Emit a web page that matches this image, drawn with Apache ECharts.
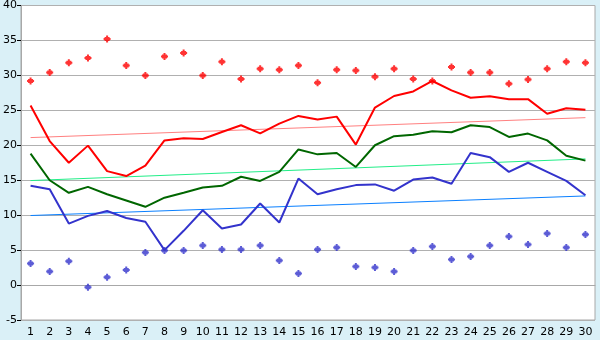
<!DOCTYPE html>
<html><head><meta charset="utf-8">
<script src="https://cdn.jsdelivr.net/npm/echarts@6/dist/echarts.min.js"></script>
<style>html,body{margin:0;padding:0;background:#daf0f7;}#c{width:600px;height:340px;}</style>
</head><body><div id="c"></div>
<script>
var days = ['1','2','3','4','5','6','7','8','9','10','11','12','13','14','15','16','17','18','19','20','21','22','23','24','25','26','27','28','29','30'];
var maxPoints = [29.2,30.4,31.8,32.5,35.2,31.4,30.0,32.7,33.2,30.0,31.95,29.5,30.95,30.8,31.4,28.95,30.8,30.7,29.8,30.95,29.5,29.2,31.2,30.4,30.4,28.8,29.4,30.95,31.95,31.8];
var maxLine = [25.7,20.6,17.5,19.95,16.3,15.6,17.1,20.7,21.0,20.9,21.9,22.86,21.7,23.1,24.2,23.7,24.1,20.1,25.4,27.05,27.7,29.2,27.86,26.8,27.0,26.6,26.6,24.5,25.3,25.1];
var avgLine = [18.8,15.0,13.2,14.05,13.0,12.1,11.2,12.5,13.2,13.95,14.2,15.5,14.9,16.2,19.4,18.7,18.9,16.9,20.0,21.3,21.5,22.0,21.86,22.86,22.6,21.2,21.67,20.7,18.5,17.8];
var minLine = [14.2,13.7,8.8,9.9,10.6,9.6,9.05,5.0,7.76,10.7,8.1,8.67,11.67,8.95,15.24,13.0,13.7,14.3,14.4,13.5,15.1,15.4,14.5,18.9,18.3,16.2,17.5,16.2,14.9,12.86];
var minPoints = [3.1,1.95,3.4,-0.33,1.1,2.14,4.67,4.95,4.95,5.67,5.1,5.1,5.67,3.52,1.67,5.1,5.38,2.67,2.52,1.95,4.95,5.52,3.67,4.1,5.67,6.95,5.81,7.38,5.38,7.24];
var trendMax = [21.1, 23.95];
var trendAvg = [14.95, 18.05];
var trendMin = [9.95, 12.75];
var yTicks = {min: -5, max: 40, step: 5};

var chart = echarts.init(document.getElementById('c'), null, {renderer: 'canvas'});
var font = 'DejaVu Sans';
var marker = 'path://M2.5,0H4.5V1.5H6V2.5H7V4.5H6V5.5H4.5V7H2.5V5.5H1V4.5H0V2.5H1V1.5H2.5Z';
function trend(arr, color) {
  return {type: 'line', data: [[0, arr[0]], [days.length - 1, arr[1]]], symbol: 'none', silent: true,
    lineStyle: {color: color, width: 1}, animation: false, z: 1};
}
function line(arr, color) {
  return {type: 'line', data: arr, symbol: 'none', lineStyle: {color: color, width: 2}, animation: false, z: 3};
}
function pts(arr, color) {
  return {type: 'scatter', data: arr, symbol: marker, symbolSize: 7, itemStyle: {color: color}, animation: false, z: 4};
}
chart.setOption({
  backgroundColor: '#daf0f7',
  animation: false,
  grid: {left: 20, right: 5, top: 5, bottom: 20, show: true, backgroundColor: '#ffffff', borderColor: '#a8a8a8', borderWidth: 1},
  xAxis: {type: 'category', data: days, boundaryGap: true,
    axisLine: {lineStyle: {color: '#a8a8a8', width: 1}},
    axisTick: {alignWithLabel: true, length: 5, lineStyle: {color: '#000000'}},
    axisLabel: {color: '#000000', fontFamily: font, fontSize: 11, margin: 7, interval: 0},
    splitLine: {show: false}},
  yAxis: {type: 'value', min: yTicks.min, max: yTicks.max, interval: yTicks.step,
    axisLine: {show: true, lineStyle: {color: '#a8a8a8', width: 1}},
    axisTick: {show: true, length: 4, lineStyle: {color: '#000000'}},
    axisLabel: {color: '#000000', fontFamily: font, fontSize: 11, margin: 4},
    splitLine: {lineStyle: {color: '#b0b0b0', width: 1}}},
  series: [
    trend(trendMax, '#ff8080'),
    trend(trendAvg, '#22ee88'),
    trend(trendMin, '#0a80ff'),
    line(maxLine, '#ff0000'),
    line(avgLine, '#006600'),
    line(minLine, '#3333cc'),
    pts(maxPoints, '#ff0000'),
    pts(minPoints, '#3333cc')
  ]
});
</script>
</body></html>
